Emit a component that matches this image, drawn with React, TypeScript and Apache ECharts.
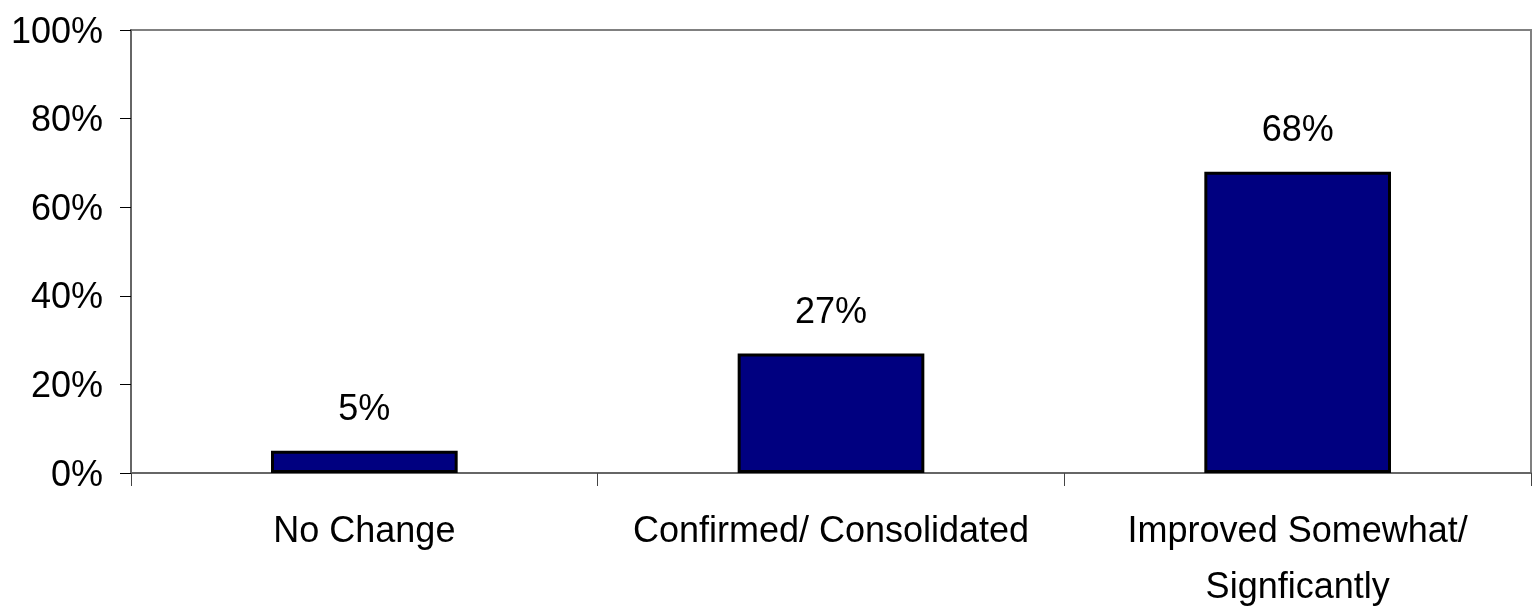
import React, { useEffect, useRef } from "react";
import * as echarts from "echarts";

const categories = ["No Change", "Confirmed/ Consolidated", "Improved Somewhat/\nSignficantly"];
const values = [5, 27, 68];
const yTicks = { min: 0, max: 100, interval: 20 };

export default function App() {
  const ref = useRef<HTMLDivElement>(null);
  useEffect(() => {
    if (!ref.current) return;
    const chart = echarts.init(ref.current, null, { renderer: "svg" });
    const font = "'Liberation Sans', Arial, sans-serif";
    chart.setOption({
      animation: false,
      grid: {
        left: 131,
        right: 6,
        top: 30,
        bottom: 136,
        containLabel: false,
        outerBoundsMode: "none",
        show: true,
        borderColor: "#808080",
        borderWidth: 2,
        backgroundColor: "#fff",
      },
      xAxis: {
        type: "category",
        data: categories,
        boundaryGap: true,
        axisLine: { show: true, lineStyle: { color: "#666", width: 2 } },
        axisTick: { show: true, length: 13, lineStyle: { color: "#444", width: 1 } },
        axisLabel: {
          interval: 0,
          margin: 28,
          color: "#000",
          fontFamily: font,
          fontSize: 36,
          lineHeight: 56,
        },
      },
      yAxis: {
        type: "value",
        min: yTicks.min,
        max: yTicks.max,
        interval: yTicks.interval,
        axisLine: { show: true, lineStyle: { color: "#666", width: 2 } },
        axisTick: { show: true, length: 11, lineStyle: { color: "#000", width: 1 } },
        splitLine: { show: false },
        axisLabel: {
          formatter: "{value}%",
          margin: 28,
          color: "#000",
          fontFamily: font,
          fontSize: 36,
        },
      },
      series: [
        {
          type: "bar",
          data: values,
          barWidth: "40%",
          itemStyle: { color: "#000080", borderColor: "#000", borderWidth: 3 },
          label: {
            show: true,
            position: "top",
            distance: 25,
            formatter: "{c}%",
            color: "#000",
            fontFamily: font,
            fontSize: 36,
          },
        },
      ],
    });
    return () => chart.dispose();
  }, []);
  return <div ref={ref} style={{ position: "fixed", left: 0, top: 0, width: 1537, height: 609 }} />;
}
